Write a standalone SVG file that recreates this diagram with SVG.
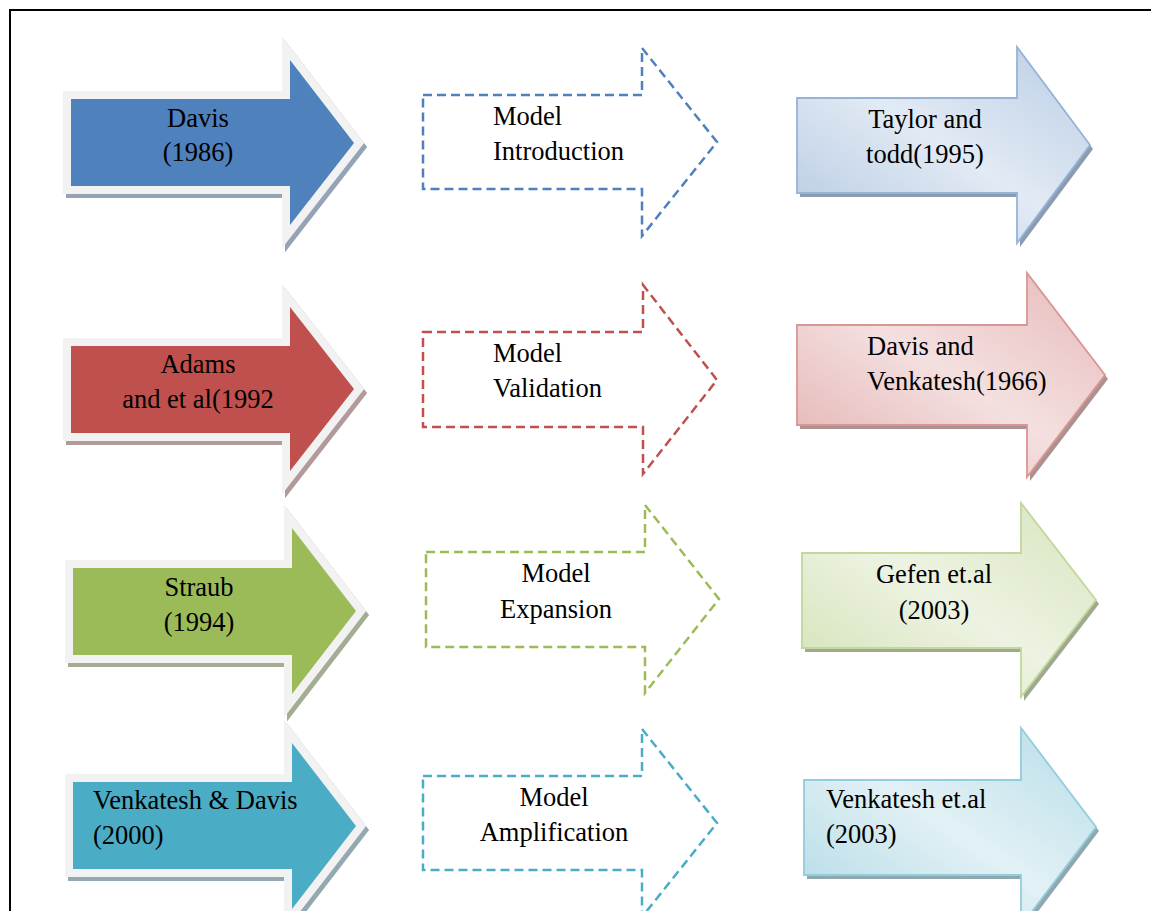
<svg xmlns="http://www.w3.org/2000/svg" xmlns:xlink="http://www.w3.org/1999/xlink" width="1151" height="911" viewBox="0 0 1151 911">
<style>
text{font-size:26.5px;fill:#000}
.m{text-anchor:middle}
.lf{stroke:#f2f2f2;stroke-width:16;stroke-linejoin:miter;stroke-miterlimit:10;paint-order:stroke}
.ls{stroke-width:16;stroke-linejoin:miter;stroke-miterlimit:10}
.ds{fill:none;stroke-width:2.5;stroke-dasharray:9 5}
.rf{stroke-width:1.8;stroke-linejoin:miter}
</style>
<defs>
<linearGradient id="gB" x1="0" y1="1" x2="1" y2="0"><stop offset="0" stop-color="#b3c8e2"/><stop offset="0.5" stop-color="#e2eaf4"/><stop offset="1" stop-color="#b9cde5"/></linearGradient>
<linearGradient id="gR" x1="0" y1="1" x2="1" y2="0"><stop offset="0" stop-color="#e2b0af"/><stop offset="0.5" stop-color="#f4e0e0"/><stop offset="1" stop-color="#e6b9b8"/></linearGradient>
<linearGradient id="gG" x1="0" y1="1" x2="1" y2="0"><stop offset="0" stop-color="#d2e1b4"/><stop offset="0.5" stop-color="#edf3e2"/><stop offset="1" stop-color="#d7e4bd"/></linearGradient>
<linearGradient id="gT" x1="0" y1="1" x2="1" y2="0"><stop offset="0" stop-color="#b0d9e5"/><stop offset="0.5" stop-color="#e2f1f5"/><stop offset="1" stop-color="#b7dde8"/></linearGradient>
<polygon id="L1" points="71,99 290,99 290,60 354,143 290,225 290,186 71,186"/>
<polygon id="L2" points="71,346 290,346 290,307 354,389 290,471 290,433 71,433"/>
<polygon id="L3" points="73,568 292,568 292,528 356,611 292,694 292,655 73,655"/>
<polygon id="L4" points="73,782 292,782 292,743 356,826 292,909 292,869 73,869"/>
<polygon id="R1" points="797,98 1017,98 1017,47 1090,145 1017,243 1017,193 797,193"/>
<polygon id="R2" points="797,325 1027,325 1027,273 1105,375 1027,477 1027,425 797,425"/>
<polygon id="R3" points="802,553 1021,553 1021,503 1096,600 1021,697 1021,648 802,648"/>
<polygon id="R4" points="804,780 1021,780 1021,728 1096,827 1021,926 1021,875 804,875"/>
</defs>
<rect x="0" y="0" width="1151" height="911" fill="#fff"/>
<rect x="10" y="10" width="1200" height="1000" fill="none" stroke="#000" stroke-width="2"/>
<g id="connectors"></g>
<g font-family="'Liberation Serif', serif">
<g id="davis1986">
<use xlink:href="#L1" href="#L1" transform="translate(3,4)" class="ls" fill="#95a3b6" stroke="#95a3b6"/>
<use xlink:href="#L1" href="#L1" class="lf" fill="#4f81bd"/>
<text class="m" x="198" y="127">Davis</text>
<text class="m" x="198" y="161">(1986)</text>
</g>
<g id="adams1992">
<use xlink:href="#L2" href="#L2" transform="translate(3,4)" class="ls" fill="#b39a9a" stroke="#b39a9a"/>
<use xlink:href="#L2" href="#L2" class="lf" fill="#c0504d"/>
<text class="m" x="198" y="373">Adams</text>
<text class="m" x="198" y="408">and et al(1992</text>
</g>
<g id="straub1994">
<use xlink:href="#L3" href="#L3" transform="translate(3,4)" class="ls" fill="#a3ad93" stroke="#a3ad93"/>
<use xlink:href="#L3" href="#L3" class="lf" fill="#9bbb59"/>
<text class="m" x="199" y="596">Straub</text>
<text class="m" x="199" y="631">(1994)</text>
</g>
<g id="venkateshDavis2000">
<use xlink:href="#L4" href="#L4" transform="translate(3,4)" class="ls" fill="#92a9b1" stroke="#92a9b1"/>
<use xlink:href="#L4" href="#L4" class="lf" fill="#4bacc6"/>
<text x="93" y="809">Venkatesh &amp; Davis</text>
<text x="93" y="844">(2000)</text>
</g>

<g id="modelIntroduction">
<polygon class="ds" stroke="#4f81bd" points="423,95 642,95 642,48 717,142 642,236 642,189 423,189"/>
<text x="493" y="125">Model</text>
<text x="493" y="160">Introduction</text>
</g>
<g id="modelValidation">
<polygon class="ds" stroke="#c0504d" points="423,332 643,332 643,285 717,380 643,474 643,427 423,427"/>
<text x="493" y="362">Model</text>
<text x="493" y="397">Validation</text>
</g>
<g id="modelExpansion">
<polygon class="ds" stroke="#9bbb59" points="426,552 645,552 645,505 719,599 645,693 645,647 426,647"/>
<text class="m" x="556" y="582">Model</text>
<text class="m" x="556" y="618">Expansion</text>
</g>
<g id="modelAmplification">
<polygon class="ds" stroke="#4bacc6" points="423,776 642,776 642,729 717,823 642,917 642,870 423,870"/>
<text class="m" x="554" y="806">Model</text>
<text class="m" x="554" y="841">Amplification</text>
</g>

<g id="taylorTodd1995">
<use xlink:href="#R1" href="#R1" transform="translate(3,4)" fill="#8d9bb0"/>
<use xlink:href="#R1" href="#R1" class="rf" fill="url(#gB)" stroke="#95b3d7"/>
<text class="m" x="925" y="128">Taylor and</text>
<text class="m" x="925" y="163">todd(1995)</text>
</g>
<g id="davisVenkatesh1966">
<use xlink:href="#R2" href="#R2" transform="translate(3,4)" fill="#ab9190"/>
<use xlink:href="#R2" href="#R2" class="rf" fill="url(#gR)" stroke="#d99694"/>
<text x="867" y="355">Davis and</text>
<text x="867" y="390">Venkatesh(1966)</text>
</g>
<g id="gefen2003">
<use xlink:href="#R3" href="#R3" transform="translate(3,4)" fill="#9fa98f"/>
<use xlink:href="#R3" href="#R3" class="rf" fill="url(#gG)" stroke="#c3d69b"/>
<text class="m" x="934" y="583">Gefen et.al</text>
<text class="m" x="934" y="619">(2003)</text>
</g>
<g id="venkatesh2003">
<use xlink:href="#R4" href="#R4" transform="translate(3,4)" fill="#8fa7ae"/>
<use xlink:href="#R4" href="#R4" class="rf" fill="url(#gT)" stroke="#93cddd"/>
<text x="826" y="808">Venkatesh et.al</text>
<text x="826" y="843">(2003)</text>
</g>
</g>
</svg>
